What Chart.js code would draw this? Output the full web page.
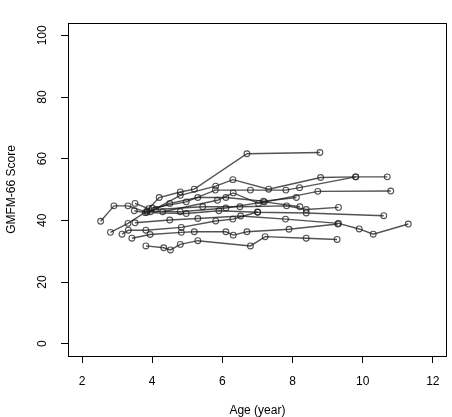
<!DOCTYPE html>
<html>
<head>
<meta charset="utf-8">
<script src="https://cdn.jsdelivr.net/npm/chart.js@4.4.1/dist/chart.umd.min.js"></script>
<style>
  html, body { margin: 0; padding: 0; background: #fff; }
  canvas { display: block; }
</style>
</head>
<body>
<canvas id="c" width="452" height="417"></canvas>
<script>
// ---- Data ----
const xTickValues = [2, 4, 6, 8, 10, 12];
const yTickValues = [0, 20, 40, 60, 80, 100];
const xAxisTitle = 'Age (year)';
const yAxisTitle = 'GMFM-66 Score';

const age01 = [2.53, 2.91, 3.31, 3.85, 4.5, 5.3, 6.1, 7.17, 8.11];
const score01 = [39.7, 44.7, 44.7, 42.6, 45.5, 47.4, 47.4, 46.2, 47.4];
const age02 = [3.51, 3.9, 4.2, 4.8, 5.2, 6.7, 8.78];
const score02 = [45.5, 43.8, 47.4, 49.2, 50.1, 61.6, 62.0];
const age03 = [3.95, 4.8, 5.81, 6.3, 7.32, 8.8, 9.8, 10.7];
const score03 = [42.8, 48.1, 51.1, 53.2, 50.1, 53.9, 54.1, 54.1];
const age04 = [4.0, 4.97, 5.8, 6.8, 7.81, 8.2, 9.8];
const score04 = [44.0, 46.0, 49.8, 49.8, 49.8, 50.6, 54.1];
const age05 = [3.49, 3.8, 4.97, 5.9, 7.01, 8.39, 10.6];
const score05 = [43.1, 42.5, 42.2, 43.1, 42.6, 42.4, 41.5];
const age06 = [4.1, 5.44, 6.5, 7.83, 8.39, 9.31];
const score06 = [43.5, 44.4, 44.4, 44.7, 43.5, 44.2];
const age07 = [4.3, 5.86, 6.31, 7.03, 8.72, 10.8];
const score07 = [42.8, 46.5, 48.9, 45.5, 49.4, 49.5];
const age08 = [3.51, 4.5, 5.3, 6.52, 7.8, 9.31, 9.9, 10.3, 11.3];
const score08 = [39.2, 40.1, 40.6, 41.4, 40.4, 39.0, 37.2, 35.5, 38.8];
const age09 = [2.81, 3.31, 3.85, 4.8, 6.1, 7.2, 8.21];
const score09 = [36.1, 39.0, 43.0, 42.8, 44.0, 46.0, 44.4];
const age10 = [3.14, 3.32, 3.82, 4.83, 5.81, 6.3, 7.0];
const score10 = [35.5, 36.8, 36.8, 37.7, 39.8, 40.4, 42.7];
const age11 = [3.42, 3.94, 4.83, 5.2, 6.1, 6.31, 6.7, 7.9, 9.29];
const score11 = [34.2, 35.4, 36.1, 36.3, 36.3, 35.2, 36.3, 37.1, 38.8];
const age12 = [3.82, 4.33, 4.52, 4.8, 5.3, 6.8, 7.22, 8.39, 9.27];
const score12 = [31.7, 31.1, 30.4, 32.2, 33.4, 31.7, 34.7, 34.2, 33.8];

const subjectAges = [age01, age02, age03, age04, age05, age06, age07, age08, age09, age10, age11, age12];
const subjectScores = [score01, score02, score03, score04, score05, score06, score07, score08, score09, score10, score11, score12];

// ---- Styling ----
const FONT = 'Liberation Sans, Arial, Helvetica, sans-serif';
const markColor = 'rgba(25,25,25,0.75)';

const datasets = subjectAges.map((ages, i) => ({
  label: 'Subject ' + (i + 1),
  data: ages.map((a, j) => ({ x: a, y: subjectScores[i][j] })),
  showLine: true,
  borderColor: markColor,
  borderWidth: 1.4,
  backgroundColor: 'rgba(0,0,0,0)',
  pointBorderColor: markColor,
  pointBackgroundColor: 'rgba(0,0,0,0)',
  pointBorderWidth: 1.1,
  pointRadius: 2.9,
  pointStyle: 'circle',
  tension: 0
}));

const boxAndLabels = {
  id: 'boxAndLabels',
  afterDraw(chart) {
    const { ctx, chartArea: a, scales } = chart;
    ctx.save();
    ctx.strokeStyle = '#000';
    ctx.lineWidth = 1;
    ctx.strokeRect(Math.round(a.left) + 0.5, Math.round(a.top) + 0.5,
                   Math.round(a.right - a.left) - 1, Math.round(a.bottom - a.top));
    ctx.fillStyle = '#000';
    ctx.font = '12px ' + FONT;
    ctx.textAlign = 'center';
    ctx.textBaseline = 'middle';
    yTickValues.forEach(v => {
      const y = scales.y.getPixelForValue(v);
      ctx.save();
      ctx.translate(43, y);
      ctx.rotate(-Math.PI / 2);
      ctx.fillText(String(v), 0, 0);
      ctx.restore();
    });
    ctx.restore();
  }
};

const gridOpts = {
  drawOnChartArea: false,
  drawTicks: true,
  tickLength: 7,
  color: '#000',
  lineWidth: 1
};

new Chart(document.getElementById('c').getContext('2d'), {
  type: 'scatter',
  data: { datasets },
  options: {
    responsive: false,
    animation: false,
    layout: { padding: { left: 0, right: 5, top: 23, bottom: 0 } },
    plugins: { legend: { display: false }, tooltip: { enabled: false } },
    scales: {
      x: {
        type: 'linear',
        min: 1.6,
        max: 12.4,
        afterBuildTicks: s => { s.ticks = xTickValues.map(v => ({ value: v })); },
        afterFit: s => { s.height = 61; },
        grid: gridOpts,
        border: { display: false },
        ticks: {
          padding: 11, color: '#000', maxRotation: 0, autoSkip: false,
          font: { family: FONT, size: 12 }
        },
        title: {
          display: true, text: xAxisTitle, color: '#000',
          font: { family: FONT, size: 12, lineHeight: 1 }, padding: 0
        }
      },
      y: {
        type: 'linear',
        min: -4,
        max: 104,
        afterBuildTicks: s => { s.ticks = yTickValues.map(v => ({ value: v })); },
        afterFit: s => { s.width = 68; },
        grid: gridOpts,
        border: { display: false },
        ticks: { display: false },
        title: {
          display: true, text: yAxisTitle, color: '#000',
          font: { family: FONT, size: 12, lineHeight: 1 }, padding: { top: 6, bottom: 0 }
        }
      }
    }
  },
  plugins: [boxAndLabels]
});
</script>
</body>
</html>
